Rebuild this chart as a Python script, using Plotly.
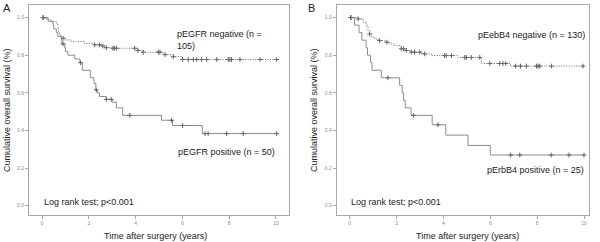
import numpy as np
import plotly.graph_objects as go

# ---------------- data ----------------
years_ticks = [0, 2, 4, 6, 8, 10]
surv_ticks = [0.0, 0.2, 0.4, 0.6, 0.8, 1.0]

# Panel A: pEGFR
a_neg_t = [0, 0.11, 0.26, 0.40, 0.61, 0.68, 0.71, 0.75, 0.83, 0.97, 1.25, 1.82, 2.25, 2.54, 2.68, 2.96, 4.10, 4.32, 5.19, 5.61, 6.01, 10.03]
a_neg_s = [1.0, 0.996, 0.987, 0.979, 0.970, 0.943, 0.926, 0.908, 0.890, 0.881, 0.872, 0.863, 0.855, 0.849, 0.840, 0.837, 0.825, 0.816, 0.803, 0.792, 0.777, 0.777]
a_neg_cens = [0.05, 0.9, 2.25, 2.46, 2.6, 2.75, 3.03, 3.1, 3.18, 3.96, 4.1, 4.33, 4.97, 5.04, 5.26, 5.61,
              6.01, 6.25, 6.47, 6.61, 6.82, 7.04, 7.47, 7.96, 8.03, 8.1, 8.46, 9.32, 10.03]

a_pos_t = [0, 0.26, 0.47, 0.50, 0.61, 0.68, 0.83, 0.85, 0.97, 1.0, 1.11, 1.40, 1.62, 1.72, 2.06, 2.22, 2.30, 2.36, 2.46, 2.75, 3.0, 3.18, 3.45, 5.11, 5.58, 6.85, 10.03]
a_pos_s = [1.0, 0.98, 0.96, 0.94, 0.92, 0.90, 0.88, 0.86, 0.84, 0.82, 0.80, 0.78, 0.76, 0.72, 0.68, 0.65, 0.615, 0.60, 0.58, 0.565, 0.55, 0.52, 0.48, 0.454, 0.426, 0.383, 0.383]
a_pos_cens = [0.05, 0.9, 1.65, 2.32, 2.75, 2.96, 3.75, 5.54, 6.01, 6.97, 7.1, 7.89, 8.6, 10.03]

# Panel B: pErbB4
b_neg_t = [0, 0.36, 0.57, 0.71, 0.78, 0.85, 0.92, 1.07, 1.21, 1.49, 1.71, 1.92, 2.20, 2.35, 2.63, 3.06, 3.49, 4.60, 5.62, 6.86, 10.0]
b_neg_s = [1.0, 0.993, 0.975, 0.957, 0.931, 0.913, 0.896, 0.886, 0.878, 0.869, 0.860, 0.851, 0.834, 0.825, 0.816, 0.807, 0.798, 0.788, 0.756, 0.742, 0.742]
b_neg_cens = [0.05, 0.36, 0.85, 1.28, 1.59, 2.2, 2.3, 2.42, 2.63, 2.77, 2.99, 3.2, 4.05, 4.12, 4.34, 4.91, 4.98,
              5.19, 5.55, 5.98, 6.4, 6.54, 6.66, 7.08, 7.29, 7.54, 7.97, 8.04, 8.11, 8.61, 9.96]

b_pos_t = [0, 0.21, 0.40, 0.52, 0.70, 0.76, 0.89, 0.95, 1.35, 2.13, 2.24, 2.30, 2.37, 2.62, 3.52, 4.10, 5.05, 6.00, 10.0]
b_pos_s = [1.0, 0.96, 0.92, 0.88, 0.84, 0.80, 0.76, 0.72, 0.68, 0.64, 0.60, 0.56, 0.52, 0.48, 0.43, 0.375, 0.32, 0.269, 0.269]
b_pos_cens = [0.05, 1.63, 2.72, 3.77, 6.87, 7.26, 8.6, 9.36, 10.0]

# ---------------- figure ----------------
NEG_COL = "#6a6a6a"
POS_COL = "#8c8c8c"
MARK_COL = "#666666"
FRAME_COL = "#a8a8a8"
TXT = "#222222"
FONT = "Liberation Sans, Arial, sans-serif"


def step_at(ts, ss, c):
    i = np.searchsorted(np.asarray(ts), c, side="right") - 1
    return ss[max(i, 0)]


fig = go.Figure()


def add_curve(ts, ss, cens, dash, color, xa, ya):
    fig.add_trace(go.Scatter(x=ts, y=ss, mode="lines", line_shape="hv",
                             line=dict(color=color, width=1, dash=dash),
                             xaxis=xa, yaxis=ya, showlegend=False, hoverinfo="skip"))
    fig.add_trace(go.Scatter(x=cens, y=[step_at(ts, ss, c) for c in cens], mode="markers",
                             marker=dict(symbol="cross-thin", size=3.5,
                                         line=dict(color=MARK_COL, width=1)),
                             xaxis=xa, yaxis=ya, showlegend=False, hoverinfo="skip"))


add_curve(a_neg_t, a_neg_s, a_neg_cens, "1px,1.5px", NEG_COL, "x", "y")
add_curve(a_pos_t, a_pos_s, a_pos_cens, "solid", POS_COL, "x", "y")
add_curve(b_neg_t, b_neg_s, b_neg_cens, "1px,1.5px", NEG_COL, "x2", "y2")
add_curve(b_pos_t, b_pos_s, b_pos_cens, "solid", POS_COL, "x2", "y2")

W, H = 600, 242
ydom = [27 / H, 237 / H]

axis_common = dict(showline=True, mirror=True, linecolor=FRAME_COL, linewidth=1,
                   showgrid=False, zeroline=False, ticks="outside", ticklen=3,
                   tickcolor=FRAME_COL, tickwidth=1, automargin=False,
                   tickfont=dict(size=5, color="#8a8a8a", family=FONT))

xa_common = dict(axis_common, tickvals=years_ticks)
ya_common = dict(axis_common, tickvals=surv_ticks, tickformat=".1f", range=[-0.05, 1.067], domain=ydom)

fig.update_layout(
    width=W, height=H, margin=dict(l=0, r=0, t=0, b=0),
    paper_bgcolor="white", plot_bgcolor="white",
    xaxis=dict(xa_common, domain=[29 / W, 289 / W], range=[-0.556, 10.556]),
    yaxis=dict(ya_common, anchor="x"),
    xaxis2=dict(xa_common, domain=[336.7 / W, 589.3 / W], range=[-0.555, 10.226], anchor="y2"),
    yaxis2=dict(ya_common, anchor="x2"),
    font=dict(family=FONT, color=TXT),
)

ann = []
f9 = dict(size=9, color=TXT, family=FONT)
# panel letters
ann.append(dict(text="A", x=1 / W, y=1, xref="paper", yref="paper", xanchor="left", yanchor="top",
                showarrow=False, font=dict(size=11, color=TXT, family=FONT)))
ann.append(dict(text="B", x=306 / W, y=1, xref="paper", yref="paper", xanchor="left", yanchor="top",
                showarrow=False, font=dict(size=11, color=TXT, family=FONT)))
# y titles
for xp in (7 / W, 314 / W):
    ann.append(dict(text="Cumulative overall survival (%)", x=xp, y=(H - 110) / H, xref="paper", yref="paper",
                    textangle=-90, xanchor="center", yanchor="middle", showarrow=False, font=f9))
# x titles
for xp in (155.5 / W, 467 / W):
    ann.append(dict(text="Time after surgery (years)", x=xp, y=(H - 236) / H, xref="paper", yref="paper",
                    xanchor="center", yanchor="middle", showarrow=False, font=f9))
# panel A labels
ann.append(dict(text="pEGFR negative (n =<br>105)", x=5.68, y=0.88, xref="x", yref="y", xanchor="left",
                yanchor="middle", align="left", showarrow=False, font=f9))
ann.append(dict(text="pEGFR positive (n = 50)", x=10.04, y=0.287, xref="x", yref="y", xanchor="right",
                yanchor="middle", showarrow=False, font=f9))
ann.append(dict(text="Log rank test; p<0.001", x=0.0, y=0.018, xref="x", yref="y", xanchor="left",
                yanchor="middle", showarrow=False, font=f9))
# panel B labels
ann.append(dict(text="pEebB4 negative (n = 130)", x=5.41, y=0.906, xref="x2", yref="y2", xanchor="left",
                yanchor="middle", showarrow=False, font=f9))
ann.append(dict(text="pErbB4 positive (n = 25)", x=5.79, y=0.188, xref="x2", yref="y2", xanchor="left",
                yanchor="middle", showarrow=False, font=f9))
ann.append(dict(text="Log rank test; p<0.001", x=-0.04, y=0.017, xref="x2", yref="y2", xanchor="left",
                yanchor="middle", showarrow=False, font=f9))
fig.update_layout(annotations=ann)

fig.write_html("out.html", config={"displayModeBar": False},
               post_script="document.body.style.margin='0px';document.body.style.overflow='hidden';")
